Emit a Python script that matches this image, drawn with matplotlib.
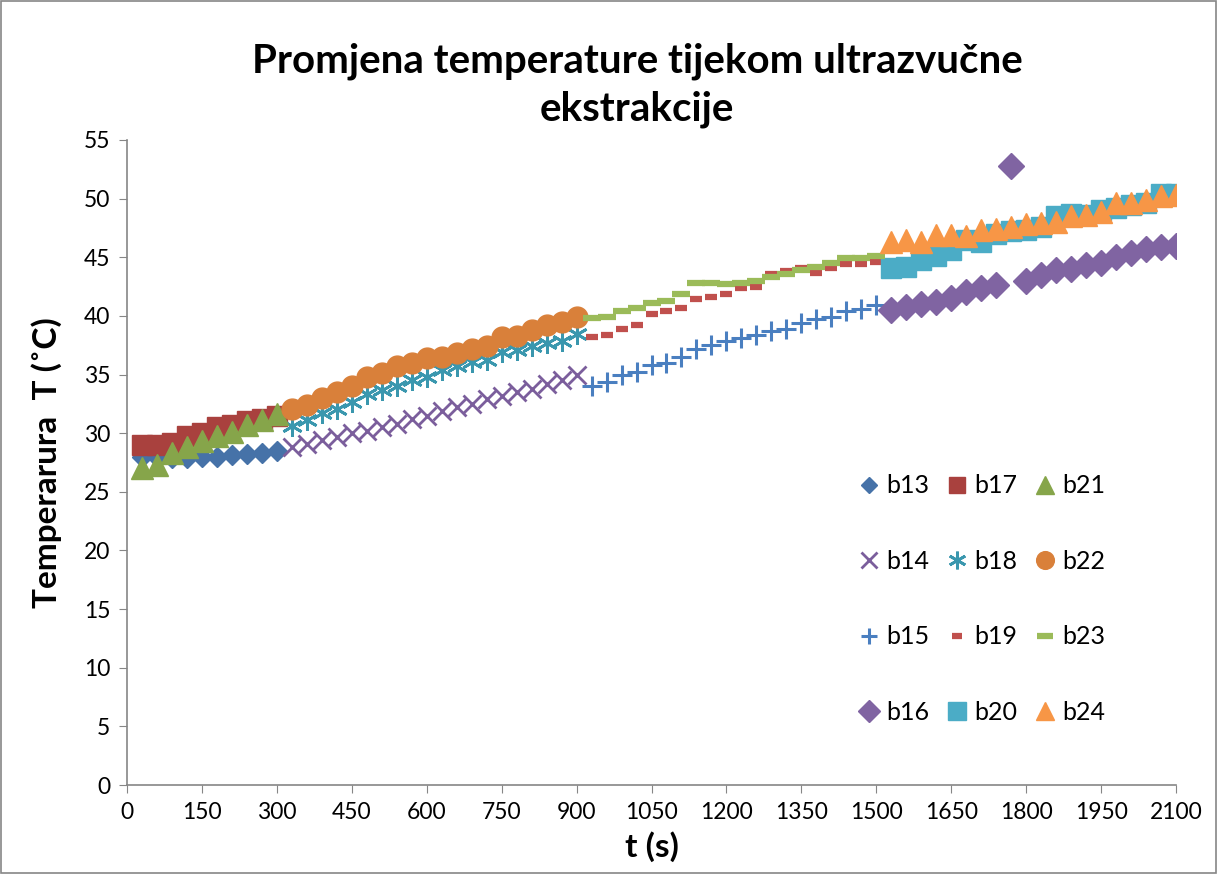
import matplotlib

matplotlib.use("Agg")
import matplotlib.pyplot as plt  # noqa: E402
from matplotlib.patches import Rectangle  # noqa: E402

plt.rcParams.update({
    "font.family": ["Lato", "DejaVu Sans"],
    "figure.dpi": 100,
})

# time stamps (s) of the four measuring blocks
t_a = [30, 60, 90, 120, 150, 180, 210, 240, 270, 300]
t_b = [330, 360, 390, 420, 450, 480, 510, 540, 570, 600,
       630, 660, 690, 720, 750, 780, 810, 840, 870, 900]
t_c = [930, 960, 990, 1020, 1050, 1080, 1110, 1140, 1170, 1200,
       1230, 1260, 1290, 1320, 1350, 1380, 1410, 1440, 1470, 1500]
t_d = [1530, 1560, 1590, 1620, 1650, 1680, 1710, 1740, 1770, 1800,
       1830, 1860, 1890, 1920, 1950, 1980, 2010, 2040, 2070, 2100]

# temperatures (°C)
b13 = [28.0, 28.0, 27.9, 27.9, 28.0, 28.0, 28.1, 28.2, 28.3, 28.5]
b17 = [29.0, 29.0, 29.2, 29.8, 30.0, 30.5, 30.7, 31.0, 31.2, 31.5]
b21 = [27.0, 27.3, 28.3, 28.8, 29.3, 29.8, 30.1, 30.7, 31.1, 31.6]

b14 = [28.8, 29.1, 29.4, 29.7, 30.0, 30.2, 30.5, 30.8, 31.2, 31.5,
       31.9, 32.2, 32.5, 32.9, 33.2, 33.5, 33.8, 34.2, 34.5, 35.0]
b18 = [30.6, 31.1, 31.7, 32.1, 32.7, 33.3, 33.7, 34.0, 34.5, 34.8,
       35.4, 35.7, 36.1, 36.2, 36.9, 37.1, 37.4, 37.7, 37.9, 38.5]
b22 = [32.1, 32.4, 33.0, 33.5, 34.0, 34.8, 35.1, 35.7, 36.0, 36.4,
       36.5, 36.8, 37.2, 37.4, 38.2, 38.3, 38.8, 39.2, 39.5, 39.9]

b15 = [34.0, 34.4, 35.0, 35.2, 35.8, 36.0, 36.5, 37.2, 37.5, 37.9,
       38.1, 38.4, 38.7, 38.9, 39.4, 39.7, 39.9, 40.4, 40.6, 40.9]
b19 = [38.2, 38.4, 38.9, 39.2, 40.2, 40.4, 40.7, 41.4, 41.6, 41.9,
       42.4, 42.5, 43.6, 43.8, 44.1, 43.7, 44.1, 44.4, 44.4, 44.6]
b23 = [39.8, 39.9, 40.4, 40.7, 41.1, 41.3, 41.9, 42.8, 42.8, 42.7,
       42.8, 43.0, 43.3, 43.6, 43.9, 44.2, 44.5, 44.9, 44.9, 45.1]

b16 = [40.5, 40.8, 41.0, 41.2, 41.5, 42.0, 42.4, 42.6, 52.8, 43.0,
       43.5, 43.9, 44.0, 44.3, 44.5, 45.0, 45.4, 45.7, 45.9, 46.0]
b20 = [44.1, 44.2, 44.8, 45.1, 45.6, 46.5, 46.3, 47.0, 47.2, 47.3,
       47.6, 48.5, 48.7, 48.6, 49.0, 49.2, 49.5, 49.6, 50.4, 50.4]
b24 = [46.3, 46.5, 46.3, 46.9, 46.9, 46.8, 47.3, 47.4, 47.6, 47.8,
       47.9, 48.0, 48.5, 48.6, 48.9, 49.6, 49.6, 49.9, 50.2, 50.3]

series = [
    ("b13", t_a, b13, dict(marker="D", color="#4672A8", ms=10)),
    ("b14", t_b, b14, dict(marker="x", color="#7B5E9C", ms=13, mew=2)),
    ("b15", t_c, b15, dict(marker="+", color="#4A7FC0", ms=14, mew=2.2)),
    ("b16", t_d, b16, dict(marker="D", color="#8064A2", ms=13)),
    ("b17", t_a, b17, dict(marker="s", color="#A9413E", ms=14)),
    ("b18", t_b, b18, dict(marker=(6, 2, 0), color="#3A97AE", ms=15, mew=2)),
    ("b19", t_c, b19, dict(marker="_", color="#C0504D", ms=9, mew=4.5)),
    ("b20", t_d, b20, dict(marker="s", color="#4BACC6", ms=15)),
    ("b21", t_a, b21, dict(marker="^", color="#86A54A", ms=16)),
    ("b22", t_b, b22, dict(marker="o", color="#D9803A", ms=15)),
    ("b23", t_c, b23, dict(marker="_", color="#9BBB59", ms=13, mew=4.5)),
    ("b24", t_d, b24, dict(marker="^", color="#F79646", ms=16)),
]

fig = plt.figure(figsize=(12.17, 8.74))
ax = fig.add_axes([127 / 1217, 1 - 785 / 874, 1049 / 1217, 645 / 874])

for name, xs, ys, style in series:
    ax.plot(xs, ys, linestyle="none", label=name, **style)

ax.set_xlim(0, 2100)
ax.set_ylim(0, 55)
ax.set_xticks(range(0, 2101, 150))
ax.set_yticks(range(0, 56, 5))
ax.tick_params(labelsize=16.5, length=6, color="#868686", pad=6)
for side in ("top", "right"):
    ax.spines[side].set_visible(False)
for side in ("left", "bottom"):
    ax.spines[side].set_color("#868686")
    ax.spines[side].set_linewidth(1.2)

ax.set_xlabel("t (s)", fontsize=24, fontweight="bold", labelpad=6)
ax.set_ylabel("Temperarura  T (˚C)", fontsize=24, fontweight="bold", labelpad=16)
fig.text(637 / 1217, 1 - 85 / 874, "Promjena temperature tijekom ultrazvučne\nekstrakcije",
         ha="center", va="center", fontsize=29, fontweight="bold", linespacing=1.35)

ax.legend(loc="upper left", bbox_to_anchor=(845 / 1217, 1 - 462 / 874),
          bbox_transform=fig.transFigure, ncol=3, frameon=False, fontsize=18,
          numpoints=1, markerscale=0.85, handlelength=0.9, handletextpad=0.25,
          labelspacing=2.1, columnspacing=0.65, borderpad=0)

fig.patches.append(Rectangle((0.001, 0.001), 0.998, 0.998, transform=fig.transFigure,
                             fill=False, edgecolor="#868686", linewidth=1.2))

fig.savefig("out.png")
